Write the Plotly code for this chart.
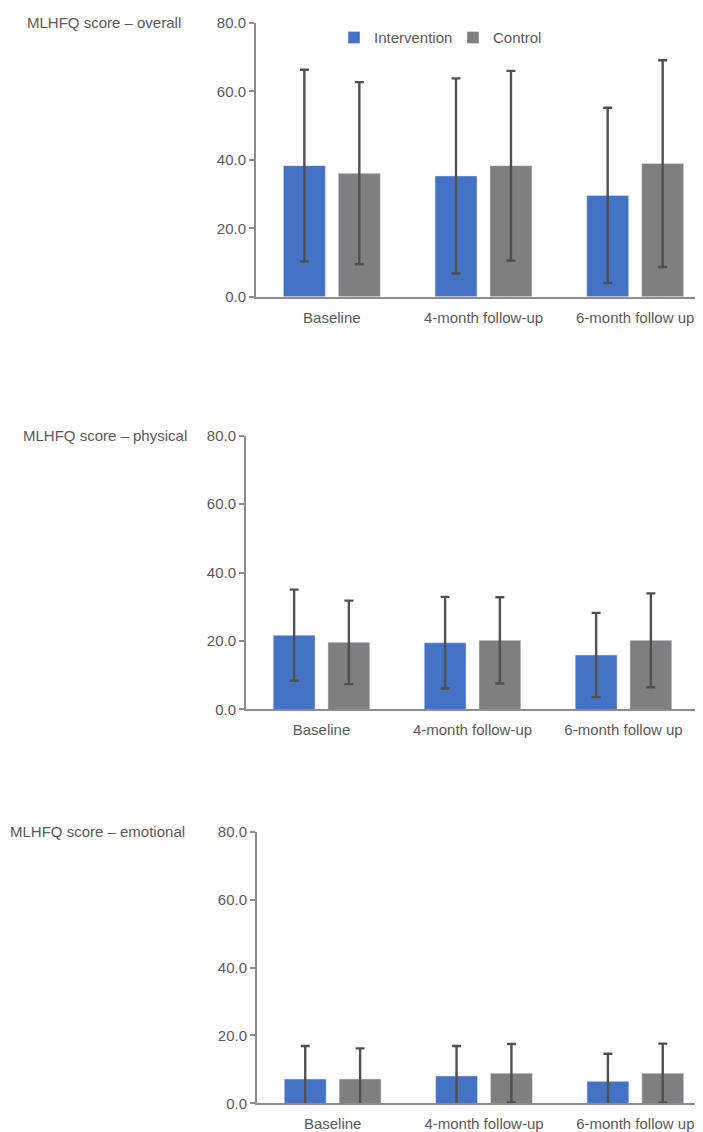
import plotly.graph_objects as go

W, H = 703, 1132

categories = ["Baseline", "4-month follow-up", "6-month follow up"]
series_names = ["Intervention", "Control"]

panel_titles = ["MLHFQ score \u2013 overall", "MLHFQ score \u2013 physical", "MLHFQ score \u2013 emotional"]

# overall
overall_int_mean = [38.3, 35.3, 29.6]
overall_int_sd = [28.0, 28.5, 25.6]
overall_ctl_mean = [36.1, 38.3, 38.9]
overall_ctl_sd = [26.6, 27.7, 30.2]

# physical
phys_int_mean = [21.7, 19.5, 15.9]
phys_int_sd = [13.3, 13.4, 12.3]
phys_ctl_mean = [19.6, 20.2, 20.2]
phys_ctl_sd = [12.2, 12.6, 13.7]

# emotional
emo_int_mean = [7.2, 8.1, 6.5]
emo_int_sd = [9.7, 8.8, 8.1]
emo_ctl_mean = [7.2, 8.9, 8.9]
emo_ctl_sd = [9.0, 8.6, 8.7]

y_ticks = [0, 20, 40, 60, 80]

BLUE = "#4472C4"
GRAY = "#7F7F7F"
ERR = "#505050"
AXIS = "#8C8C8C"
TXT = "#595959"
FONT = "Liberation Sans, Arial, sans-serif"

panels = [
    (overall_int_mean, overall_int_sd, overall_ctl_mean, overall_ctl_sd),
    (phys_int_mean, phys_int_sd, phys_ctl_mean, phys_ctl_sd),
    (emo_int_mean, emo_int_sd, emo_ctl_mean, emo_ctl_sd),
]

# pixel geometry of each panel: (x_left, x_right, y_top, y_bottom)
geom = [
    (248, 703, 6, 284),
    (238, 691, 425, 703),
    (249, 703, 827, 1103),
]
title_pos = [(17, 6), (13, 425), (0, 827)]

fig = go.Figure()
layout = {}
for i, (im, isd, cm, csd) in enumerate(panels):
    n = "" if i == 0 else str(i + 1)
    xa, ya = "x" + n, "y" + n
    fig.add_trace(go.Bar(
        x=categories, y=im, name=series_names[0], marker_color=BLUE,
        error_y=dict(type="data", array=isd, color=ERR, thickness=2.4, width=4.5),
        xaxis=xa, yaxis=ya, legendgroup="int", showlegend=(i == 0)))
    fig.add_trace(go.Bar(
        x=categories, y=cm, name=series_names[1], marker_color=GRAY,
        error_y=dict(type="data", array=csd, color=ERR, thickness=2.4, width=4.5),
        xaxis=xa, yaxis=ya, legendgroup="ctl", showlegend=(i == 0)))
    x0, x1, y0, y1 = geom[i]
    layout["xaxis" + n] = dict(
        domain=[x0 / W, x1 / W], anchor=ya, showline=True, linecolor=AXIS, linewidth=2,
        ticks="outside", ticklen=6, tickcolor="rgba(0,0,0,0)", showgrid=False,
        tickfont=dict(family=FONT, size=15, color=TXT), fixedrange=True)
    layout["yaxis" + n] = dict(
        domain=[1 - y1 / H, 1 - y0 / H], anchor=xa, range=[0, 80], tickvals=y_ticks,
        tickformat=".1f", showline=True, linecolor=AXIS, linewidth=2, ticks="outside",
        ticklen=5, tickwidth=2, tickcolor=AXIS, showgrid=False, zeroline=False,
        tickfont=dict(family=FONT, size=15, color=TXT), fixedrange=True)
    tx, ty = title_pos[i]
    fig.add_annotation(text=panel_titles[i], xref="paper", yref="paper",
                       x=tx / W, y=1 - ty / H, xanchor="left", yanchor="middle",
                       showarrow=False, font=dict(family=FONT, size=15, color=TXT))

fig.update_layout(
    width=W, height=H, margin=dict(l=0, r=0, t=0, b=0),
    paper_bgcolor="white", plot_bgcolor="white",
    barmode="group", bargap=0.275, bargroupgap=0.236,
    showlegend=True,
    legend=dict(orientation="h", x=326 / W, y=1 - 21 / H, xanchor="left", yanchor="middle",
                entrywidth=74, entrywidthmode="pixels", itemwidth=30,
                font=dict(family=FONT, size=15, color=TXT), bgcolor="rgba(0,0,0,0)"),
    **layout,
)

fig.write_html("out.html")
